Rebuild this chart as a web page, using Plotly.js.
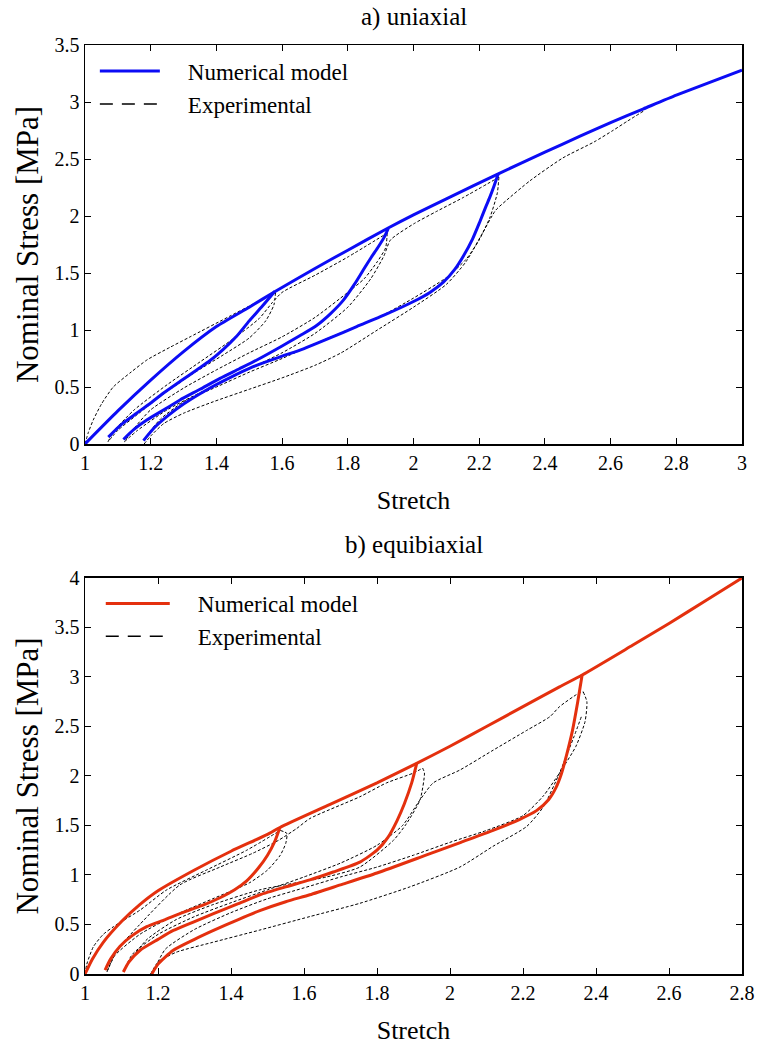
<!DOCTYPE html>
<html>
<head>
<meta charset="utf-8">
<script src="https://cdn.plot.ly/plotly-3.0.1.min.js"></script>
<style>html,body{margin:0;padding:0;background:#fff;}</style>
</head>
<body>
<div id="chart" style="width:757px;height:1047px;"></div>
<script>
// ---------- a) uniaxial : numerical model ----------
var uaNumPrimaryX = [1, 1.1, 1.2, 1.3, 1.4, 1.5, 1.58, 1.7, 1.8, 1.92, 2.0, 2.1, 2.258, 2.4, 2.507, 2.6, 2.7, 2.8, 2.9, 3.0];
var uaNumPrimaryY = [0, 0.29, 0.56, 0.81, 1.03, 1.2, 1.34, 1.54, 1.7, 1.89, 2.01, 2.15, 2.37, 2.56, 2.7, 2.82, 2.94, 3.06, 3.17, 3.28];
var uaNumC1X = [1.071, 1.11, 1.157, 1.2, 1.238, 1.29, 1.34, 1.38, 1.421, 1.46, 1.5, 1.54, 1.578];
var uaNumC1Y = [0.06, 0.17, 0.27, 0.36, 0.445, 0.55, 0.65, 0.73, 0.83, 0.94, 1.08, 1.21, 1.34];
var uaNumC2X = [1.117, 1.15, 1.188, 1.24, 1.289, 1.35, 1.411, 1.47, 1.523, 1.6, 1.66, 1.705, 1.746, 1.786, 1.82, 1.847, 1.872, 1.893, 1.91, 1.923];
var uaNumC2Y = [0.04, 0.13, 0.21, 0.3, 0.386, 0.48, 0.576, 0.66, 0.737, 0.86, 0.96, 1.04, 1.14, 1.26, 1.4, 1.526, 1.64, 1.73, 1.81, 1.89];
var uaNumC3X = [1.178, 1.21, 1.249, 1.3, 1.37, 1.44, 1.512, 1.59, 1.665, 1.746, 1.827, 1.91, 2.0, 2.05, 2.091, 2.125, 2.152, 2.18, 2.202, 2.22, 2.233, 2.246, 2.258];
var uaNumC3Y = [0.03, 0.14, 0.24, 0.35, 0.474, 0.58, 0.678, 0.76, 0.835, 0.93, 1.03, 1.13, 1.25, 1.33, 1.42, 1.53, 1.65, 1.8, 1.95, 2.08, 2.17, 2.27, 2.37];

// ---------- a) uniaxial : experimental ----------
var uaExpLoadX = [1, 1.01, 1.025, 1.05, 1.086, 1.14, 1.19, 1.26, 1.32, 1.44, 1.52, 1.58];
var uaExpLoadY = [0, 0.1, 0.21, 0.35, 0.5, 0.63, 0.74, 0.85, 0.94, 1.12, 1.24, 1.33];
var uaExpU1X = [1.58, 1.575, 1.55, 1.5, 1.42, 1.33, 1.24, 1.16, 1.1, 1.07];
var uaExpU1Y = [1.33, 1.22, 1.08, 0.93, 0.78, 0.62, 0.44, 0.26, 0.12, 0.02];
var uaExpR1X = [1.07, 1.09, 1.15, 1.25, 1.35, 1.45, 1.53, 1.57, 1.6, 1.7, 1.8, 1.92];
var uaExpR1Y = [0.02, 0.12, 0.3, 0.52, 0.72, 0.92, 1.1, 1.24, 1.33, 1.48, 1.64, 1.85];
var uaExpU2X = [1.92, 1.915, 1.89, 1.85, 1.8, 1.7, 1.6, 1.5, 1.4, 1.3, 1.2, 1.15, 1.12];
var uaExpU2Y = [1.85, 1.72, 1.6, 1.45, 1.33, 1.11, 0.94, 0.8, 0.65, 0.49, 0.3, 0.14, 0.02];
var uaExpR2X = [1.12, 1.16, 1.25, 1.35, 1.5, 1.6, 1.7, 1.8, 1.87, 1.91, 1.93, 2.0, 2.07, 2.15, 2.26];
var uaExpR2Y = [0.02, 0.12, 0.3, 0.45, 0.66, 0.8, 0.97, 1.2, 1.45, 1.65, 1.79, 1.93, 2.04, 2.16, 2.34];
var uaExpU3X = [2.26, 2.255, 2.233, 2.2, 2.16, 2.1, 2.0, 1.9, 1.8, 1.7, 1.6, 1.5, 1.4, 1.3, 1.23, 1.19, 1.18];
var uaExpU3Y = [2.34, 2.2, 1.99, 1.79, 1.62, 1.46, 1.28, 1.12, 1.0, 0.88, 0.75, 0.63, 0.5, 0.37, 0.22, 0.08, 0.02];
var uaExpR3X = [1.18, 1.2, 1.24, 1.3, 1.39, 1.5, 1.6, 1.7, 1.78, 1.89, 2.0, 2.1, 2.16, 2.21, 2.25, 2.284, 2.355, 2.455, 2.55, 2.607, 2.65, 2.7];
var uaExpR3Y = [0.0, 0.07, 0.18, 0.27, 0.37, 0.48, 0.58, 0.69, 0.8, 1.0, 1.2, 1.4, 1.6, 1.85, 2.05, 2.14, 2.31, 2.51, 2.65, 2.75, 2.83, 2.92];

// ---------- b) equibiaxial : numerical model ----------
var ebNumPrimaryX = [1, 1.02, 1.05, 1.1, 1.15, 1.2, 1.3, 1.4, 1.5, 1.534, 1.67, 1.8, 1.91, 2.0, 2.1, 2.2, 2.3, 2.362, 2.5, 2.6, 2.7, 2.8];
var ebNumPrimaryY = [0, 0.15, 0.32, 0.53, 0.7, 0.84, 1.05, 1.24, 1.41, 1.48, 1.71, 1.93, 2.13, 2.3, 2.5, 2.7, 2.9, 3.02, 3.32, 3.54, 3.77, 4.0];
var ebNumC1X = [1.055, 1.07, 1.096, 1.13, 1.169, 1.22, 1.26, 1.32, 1.37, 1.41, 1.443, 1.475, 1.5, 1.52, 1.534];
var ebNumC1Y = [0.04, 0.15, 0.28, 0.39, 0.478, 0.55, 0.61, 0.69, 0.77, 0.85, 0.94, 1.07, 1.2, 1.34, 1.48];
var ebNumC2X = [1.105, 1.12, 1.151, 1.2, 1.242, 1.3, 1.352, 1.42, 1.479, 1.55, 1.616, 1.68, 1.753, 1.8, 1.83, 1.855, 1.875, 1.895, 1.909];
var ebNumC2Y = [0.02, 0.12, 0.24, 0.35, 0.44, 0.53, 0.61, 0.71, 0.8, 0.88, 0.95, 1.03, 1.13, 1.25, 1.38, 1.55, 1.72, 1.93, 2.13];
var ebNumC3X = [1.183, 1.2, 1.242, 1.3, 1.352, 1.42, 1.479, 1.55, 1.616, 1.7, 1.8, 1.934, 2.03, 2.118, 2.19, 2.237, 2.27, 2.29, 2.305, 2.32, 2.335, 2.35, 2.362];
var ebNumC3Y = [0.0, 0.1, 0.24, 0.35, 0.44, 0.55, 0.64, 0.73, 0.8, 0.9, 1.02, 1.2, 1.33, 1.45, 1.56, 1.65, 1.76, 1.88, 2.02, 2.22, 2.45, 2.75, 3.02];

// ---------- b) equibiaxial : experimental ----------
var ebExpLoadX = [1, 1.005, 1.023, 1.05, 1.078, 1.151, 1.224, 1.333, 1.443, 1.535];
var ebExpLoadY = [0, 0.1, 0.276, 0.4, 0.478, 0.646, 0.85, 1.05, 1.25, 1.45];
var ebExpU1X = [1.535, 1.553, 1.55, 1.535, 1.5, 1.45, 1.35, 1.25, 1.15, 1.08, 1.06];
var ebExpU1Y = [1.45, 1.42, 1.32, 1.2, 1.05, 0.92, 0.76, 0.6, 0.4, 0.18, 0.02];
var ebExpR1X = [1.06, 1.09, 1.15, 1.26, 1.37, 1.46, 1.53, 1.58, 1.616, 1.753, 1.826, 1.9, 1.925];
var ebExpR1Y = [0.02, 0.25, 0.5, 0.9, 1.08, 1.22, 1.35, 1.47, 1.57, 1.79, 1.93, 2.03, 2.08];
var ebExpU2X = [1.925, 1.93, 1.918, 1.881, 1.845, 1.753, 1.662, 1.479, 1.35, 1.25, 1.17, 1.12, 1.105];
var ebExpU2Y = [2.08, 2.03, 1.76, 1.52, 1.35, 1.08, 0.98, 0.85, 0.7, 0.55, 0.35, 0.12, 0.02];
var ebExpR2X = [1.105, 1.13, 1.2, 1.3, 1.4, 1.5, 1.6, 1.7, 1.8, 1.87, 1.918, 1.954, 2.027, 2.118, 2.21, 2.274, 2.3, 2.35, 2.365];
var ebExpR2Y = [0.02, 0.2, 0.4, 0.58, 0.72, 0.85, 0.98, 1.12, 1.3, 1.5, 1.76, 1.93, 2.06, 2.26, 2.46, 2.6, 2.7, 2.83, 2.85];
var ebExpU3X = [2.365, 2.375, 2.37, 2.345, 2.3, 2.256, 2.2, 2.1, 2.0, 1.9, 1.8, 1.7, 1.6, 1.5, 1.4, 1.3, 1.22, 1.19, 1.18];
var ebExpU3Y = [2.85, 2.75, 2.55, 2.3, 2.03, 1.8, 1.6, 1.45, 1.33, 1.2, 1.08, 0.98, 0.87, 0.76, 0.62, 0.45, 0.25, 0.05, 0.0];
var ebExpR3X = [1.18, 1.2, 1.25, 1.35, 1.479, 1.616, 1.753, 1.89, 2.027, 2.118, 2.21, 2.256, 2.3, 2.34, 2.36];
var ebExpR3Y = [0.0, 0.12, 0.22, 0.32, 0.444, 0.58, 0.714, 0.88, 1.08, 1.29, 1.49, 1.69, 2.03, 2.4, 2.6];

// ---------- labels ----------
var legendNames = ["Numerical model", "Experimental"];
var panelTitles = ["a) uniaxial", "b) equibiaxial"];
var xTitle = "Stretch";
var yTitle = "Nominal Stress [MPa]";

function joinCurves(list) {
  var xs = [], ys = [];
  list.forEach(function (c, i) {
    if (i > 0) { xs.push(null); ys.push(null); }
    xs = xs.concat(c[0]); ys = ys.concat(c[1]);
  });
  return [xs, ys];
}
var PAD = "\u00a0\u00a0\u00a0\u00a0";

var BLUE = "rgb(12,12,245)";
var RED = "rgb(228,48,14)";
var FONT = "Liberation Serif";

var uaNum = joinCurves([[uaNumPrimaryX, uaNumPrimaryY], [uaNumC1X, uaNumC1Y], [uaNumC2X, uaNumC2Y], [uaNumC3X, uaNumC3Y]]);
var uaExp = joinCurves([[uaExpLoadX, uaExpLoadY], [uaExpU1X, uaExpU1Y], [uaExpR1X, uaExpR1Y], [uaExpU2X, uaExpU2Y], [uaExpR2X, uaExpR2Y], [uaExpU3X, uaExpU3Y], [uaExpR3X, uaExpR3Y]]);
var ebNum = joinCurves([[ebNumPrimaryX, ebNumPrimaryY], [ebNumC1X, ebNumC1Y], [ebNumC2X, ebNumC2Y], [ebNumC3X, ebNumC3Y]]);
var ebExp = joinCurves([[ebExpLoadX, ebExpLoadY], [ebExpU1X, ebExpU1Y], [ebExpR1X, ebExpR1Y], [ebExpU2X, ebExpU2Y], [ebExpR2X, ebExpR2Y], [ebExpU3X, ebExpU3Y], [ebExpR3X, ebExpR3Y]]);

var traces = [
  {x: uaExp[0], y: uaExp[1], xaxis: "x", yaxis: "y", mode: "lines", showlegend: false, hoverinfo: "skip",
   line: {color: "#000", width: 1, dash: "3px,2px", shape: "spline", smoothing: 0.6}, connectgaps: false},
  {x: uaNum[0], y: uaNum[1], xaxis: "x", yaxis: "y", mode: "lines", name: PAD + legendNames[0], legend: "legend",
   line: {color: BLUE, width: 3, shape: "spline", smoothing: 0.6}, connectgaps: false},
  {x: [null], y: [null], xaxis: "x", yaxis: "y", mode: "lines", name: PAD + legendNames[1], legend: "legend",
   line: {color: "#000", width: 1.5, dash: "13px,9px"}},
  {x: ebExp[0], y: ebExp[1], xaxis: "x2", yaxis: "y2", mode: "lines", showlegend: false, hoverinfo: "skip",
   line: {color: "#000", width: 1, dash: "3px,2px", shape: "spline", smoothing: 0.6}, connectgaps: false},
  {x: ebNum[0], y: ebNum[1], xaxis: "x2", yaxis: "y2", mode: "lines", name: PAD + legendNames[0], legend: "legend2",
   line: {color: RED, width: 3, shape: "spline", smoothing: 0.6}, connectgaps: false},
  {x: [null], y: [null], xaxis: "x2", yaxis: "y2", mode: "lines", name: PAD + legendNames[1], legend: "legend2",
   line: {color: "#000", width: 1.5, dash: "13px,9px"}}
];

function axisBase(extra) {
  var a = {
    showgrid: false, zeroline: false, showline: true, linecolor: "#000", linewidth: 1.5,
    mirror: "ticks", ticks: "inside", ticklen: 6, tickwidth: 1, tickcolor: "#000",
    tickfont: {family: FONT, size: 20, color: "#000"}
  };
  for (var k in extra) a[k] = extra[k];
  return a;
}

var layout = {
  width: 757, height: 1047,
  margin: {l: 85, r: 15, t: 45, b: 73},
  paper_bgcolor: "#fff", plot_bgcolor: "#fff",
  font: {family: FONT, color: "#000"},
  xaxis: axisBase({domain: [0, 1], anchor: "y", range: [1, 3], dtick: 0.2, tick0: 1,
    title: {text: xTitle, font: {family: FONT, size: 26}, standoff: 18}}),
  yaxis: axisBase({domain: [0.5705, 1], anchor: "x", range: [0, 3.5], dtick: 0.5, tick0: 0,
    title: {text: yTitle, font: {family: FONT, size: 31}, standoff: 6}}),
  xaxis2: axisBase({domain: [0, 1], anchor: "y2", range: [1, 2.8], dtick: 0.2, tick0: 1,
    title: {text: xTitle, font: {family: FONT, size: 26}, standoff: 18}}),
  yaxis2: axisBase({domain: [0, 0.4263], anchor: "x2", range: [0, 4], dtick: 0.5, tick0: 0,
    title: {text: yTitle, font: {family: FONT, size: 31}, standoff: 6}}),
  legend: {x: 0.015, y: 0.995, xanchor: "left", yanchor: "top", bgcolor: "rgba(0,0,0,0)",
    font: {family: FONT, size: 23, color: "#000"}, itemwidth: 60, tracegroupgap: 0},
  legend2: {x: 0.024, y: 0.422, xanchor: "left", yanchor: "top", bgcolor: "rgba(0,0,0,0)",
    font: {family: FONT, size: 23, color: "#000"}, itemwidth: 64, tracegroupgap: 0},
  annotations: [
    {text: panelTitles[0], xref: "paper", yref: "paper", x: 0.5, y: 1.030, xanchor: "center", yanchor: "middle",
     showarrow: false, font: {family: FONT, size: 25, color: "#000"}},
    {text: panelTitles[1], xref: "paper", yref: "paper", x: 0.5, y: 0.4618, xanchor: "center", yanchor: "middle",
     showarrow: false, font: {family: FONT, size: 25, color: "#000"}}
  ],
  showlegend: true
};

Plotly.newPlot("chart", traces, layout, {staticPlot: true, displayModeBar: false});
</script>
</body>
</html>
